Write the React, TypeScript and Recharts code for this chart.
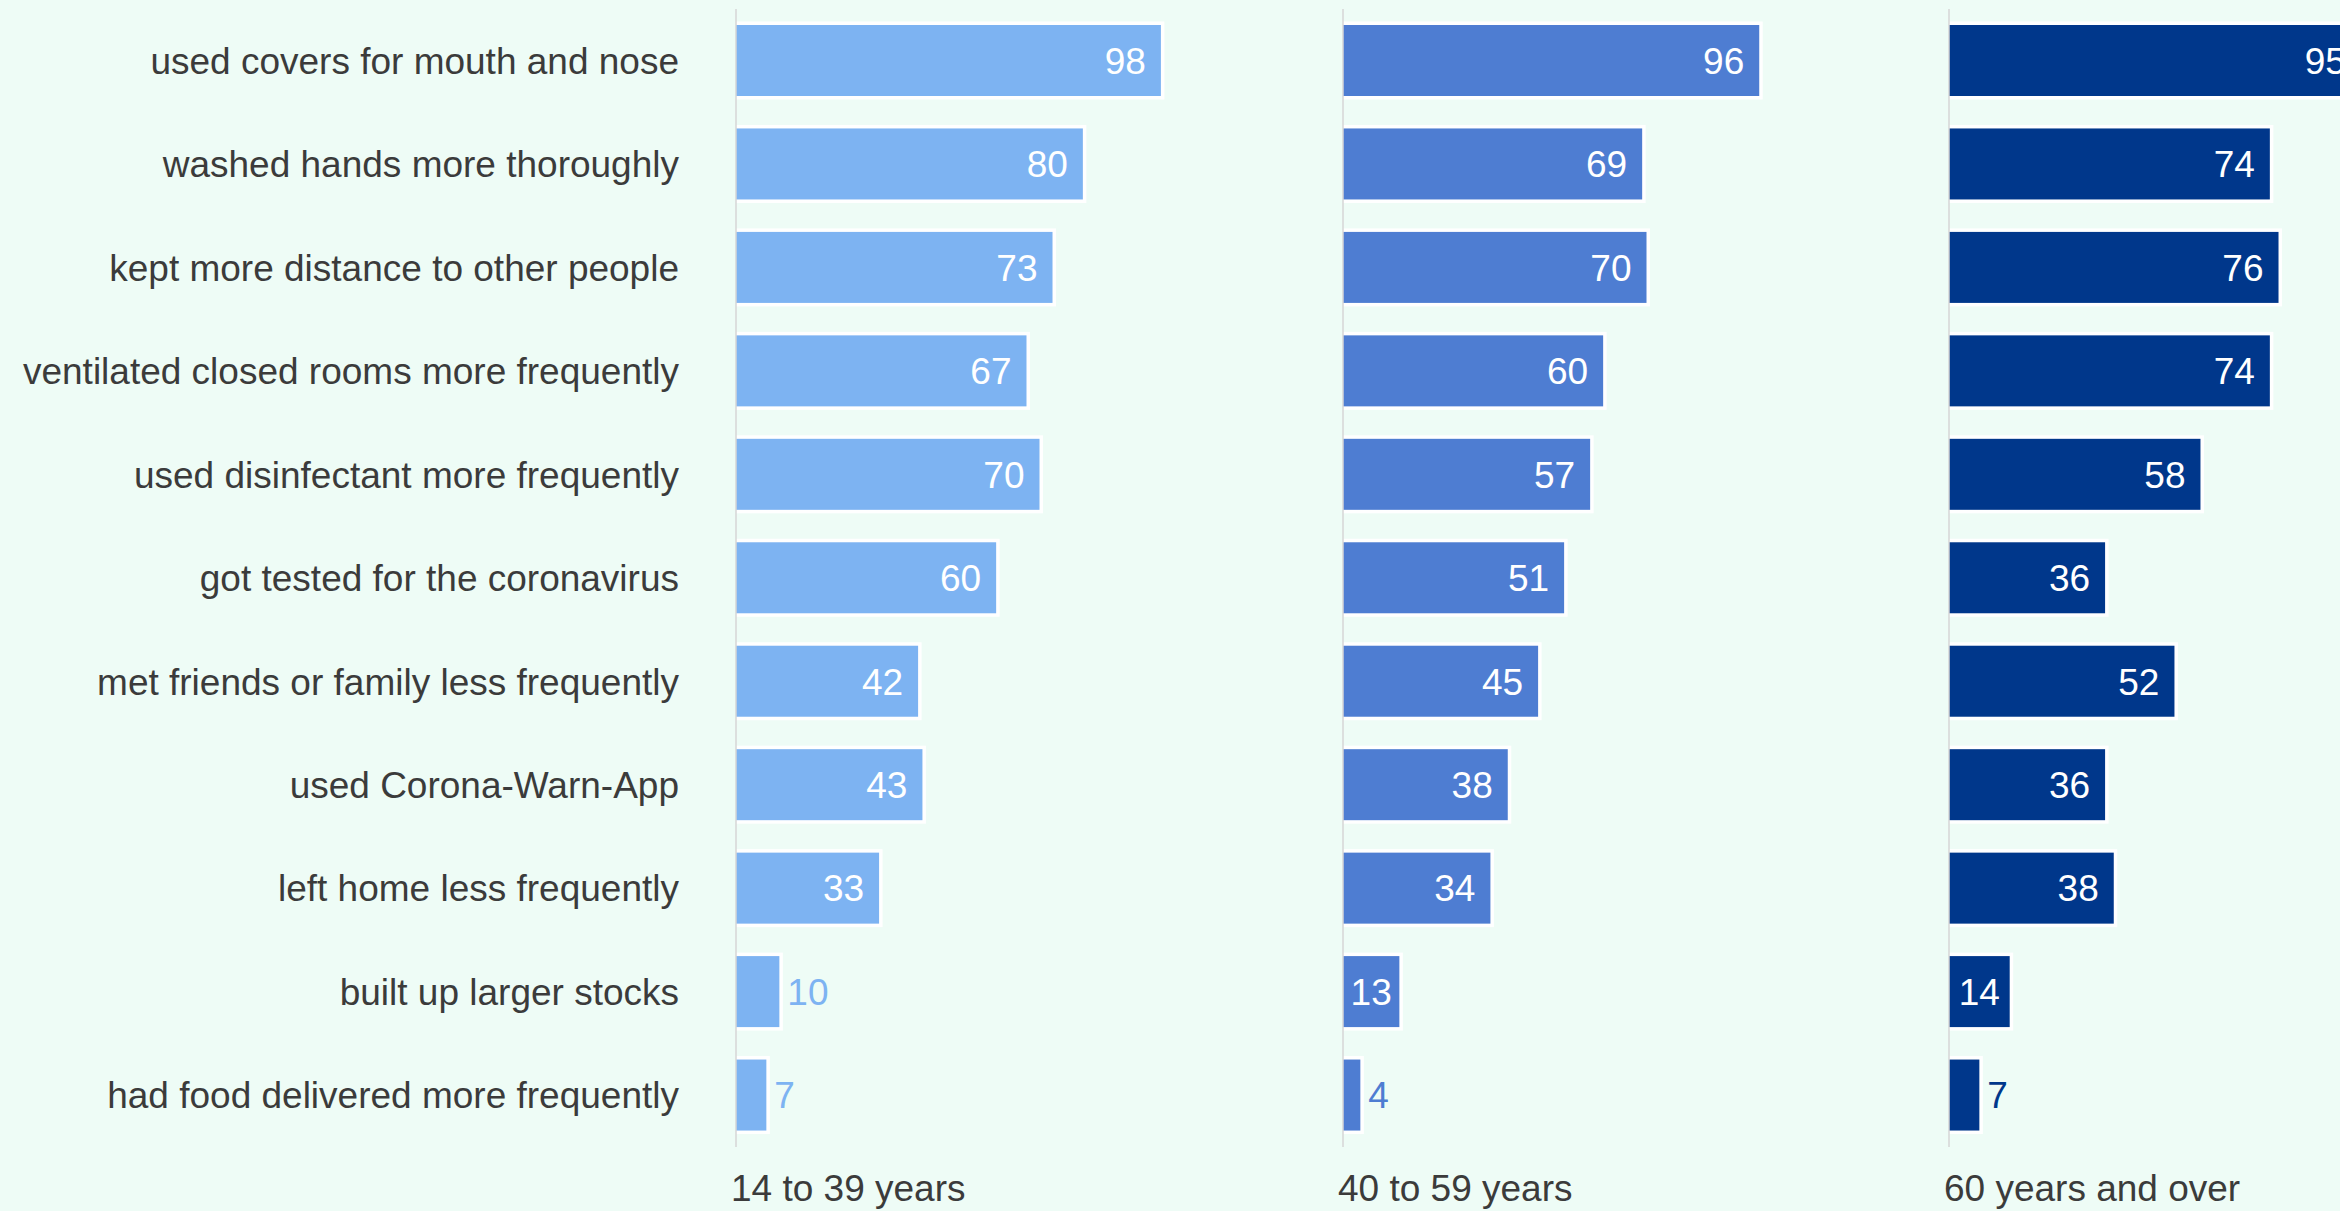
import React from "react"
import { BarChart, Bar, XAxis, YAxis, LabelList } from "recharts"

// Survey: protective measures taken, by age group (percent)
const categories = [
  "used covers for mouth and nose",
  "washed hands more thoroughly",
  "kept more distance to other people",
  "ventilated closed rooms more frequently",
  "used disinfectant more frequently",
  "got tested for the coronavirus",
  "met friends or family less frequently",
  "used Corona-Warn-App",
  "left home less frequently",
  "built up larger stocks",
  "had food delivered more frequently",
]

const age14to39 = [98, 80, 73, 67, 70, 60, 42, 43, 33, 10, 7]
const age40to59 = [96, 69, 70, 60, 57, 51, 45, 38, 34, 13, 4]
const age60plus = [95, 74, 76, 74, 58, 36, 52, 36, 38, 14, 7]

const groupTitles = ["14 to 39 years", "40 to 59 years", "60 years and over"]
const groupColors = ["#7db3f2", "#4e7dd2", "#00378b"]
const groupKeys = ["young", "middle", "old"]

const rows = categories.map((name, i) => ({
  name,
  young: age14to39[i],
  middle: age40to59[i],
  old: age60plus[i],
}))

const FONT = "'Liberation Sans', Arial, sans-serif"
const FS = 37
const BG = "#eefcf6"
const TEXT = "#3b3b3b"

// white rim around the bars
function RimBar(props: any) {
  const { x, y, width, height, fill } = props
  if (width == null || height == null) return null
  return (
    <g>
      <rect x={x} y={y - 3.5} width={width + 3.5} height={height + 7} fill="#ffffff" />
      <rect x={x} y={y} width={width} height={height} fill={fill} />
    </g>
  )
}

function valueLabel(color: string) {
  return (props: any) => {
    const { x, y, width, height, value } = props
    const tw = String(value).length * 0.556 * FS
    const cy = y + height / 2
    if (width < tw + 10) {
      return (
        <text x={x + width + 8} y={cy} dy="0.36em" fill={color} fontSize={FS} fontFamily={FONT}>
          {value}
        </text>
      )
    }
    if (width < tw + 34) {
      return (
        <text x={x + width / 2} y={cy} dy="0.36em" textAnchor="middle" fill="#ffffff" fontSize={FS} fontFamily={FONT}>
          {value}
        </text>
      )
    }
    return (
      <text x={x + width - 15} y={cy} dy="0.36em" textAnchor="end" fill="#ffffff" fontSize={FS} fontFamily={FONT}>
        {value}
      </text>
    )
  }
}

function titleLabel(title: string) {
  return (props: any) => {
    const vb = props.viewBox || { x: 0, y: 0 }
    return (
      <text x={vb.x - 5} y={vb.y + 54} fill={TEXT} fontSize={FS} fontFamily={FONT}>
        {title}
      </text>
    )
  }
}

function Panel({ idx, left, axisWidth }: { idx: number; left: number; axisWidth: number }) {
  const showNames = idx === 0
  return (
    <div style={{ position: "absolute", left, top: 0 }}>
      <BarChart
        width={axisWidth + 607}
        height={1211}
        data={rows}
        layout="vertical"
        margin={{ top: 9, right: 0, bottom: 0, left: 0 }}
      >
        <XAxis
          type="number"
          domain={[0, 140]}
          allowDataOverflow
          tick={false}
          tickLine={false}
          axisLine={false}
          height={64}
          label={{ content: titleLabel(groupTitles[idx]) }}
        />
        <YAxis
          type="category"
          dataKey="name"
          width={axisWidth}
          axisLine={{ stroke: "#d6d6d6", strokeWidth: 1.5 }}
          tickLine={false}
          tickSize={6}
          tickMargin={51}
          interval={0}
          tick={showNames ? { fill: TEXT, fontSize: FS, fontFamily: FONT } : false}
        />
        <Bar
          dataKey={groupKeys[idx]}
          fill={groupColors[idx]}
          barSize={71}
          shape={RimBar}
          isAnimationActive={false}
        >
          <LabelList dataKey={groupKeys[idx]} content={valueLabel(groupColors[idx])} />
        </Bar>
      </BarChart>
    </div>
  )
}

export default function App() {
  return (
    <div
      style={{
        position: "fixed",
        left: 0,
        top: 0,
        width: 2340,
        height: 1211,
        overflow: "hidden",
        background: BG,
      }}
    >
      <Panel idx={0} left={0} axisWidth={736} />
      <Panel idx={1} left={1333} axisWidth={10} />
      <Panel idx={2} left={1939} axisWidth={10} />
    </div>
  )
}
